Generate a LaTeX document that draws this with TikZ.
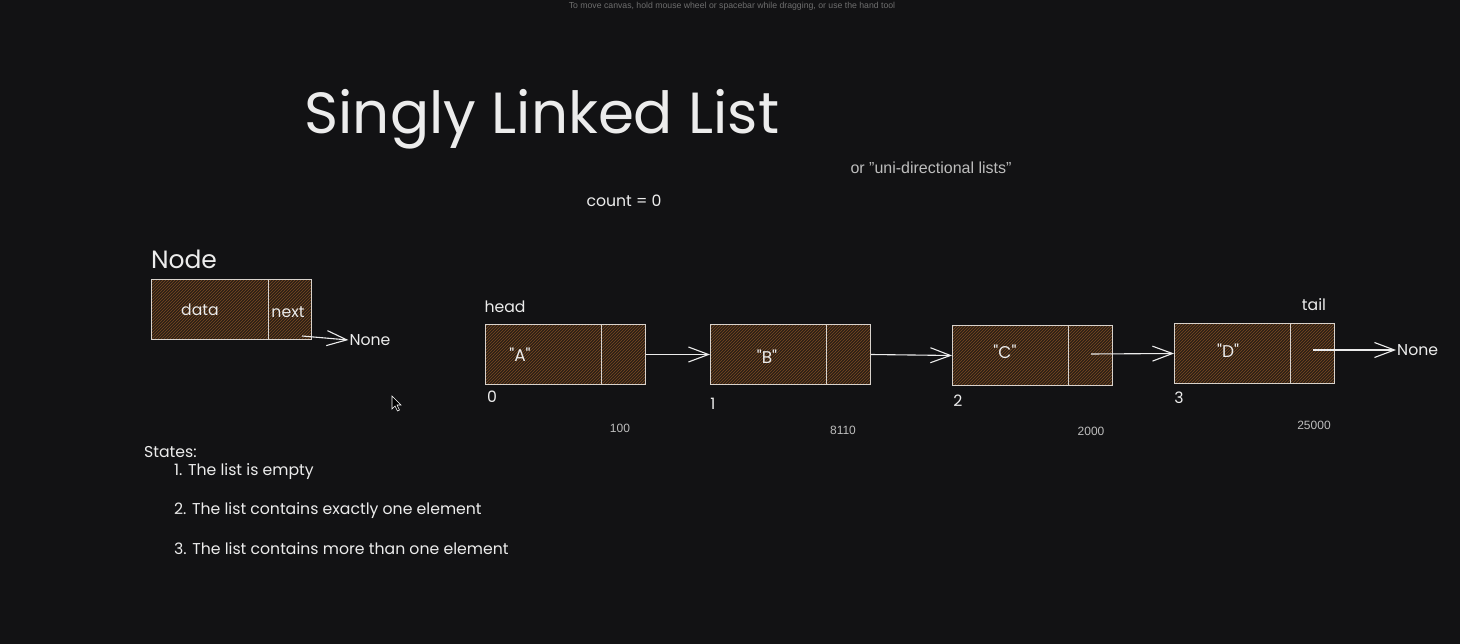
\documentclass[tikz,border=0pt]{standalone}
\usepackage{fontspec}
\setmainfont{Liberation Sans}
\newfontfamily\hand{Poppins}
\usetikzlibrary{arrows.meta,patterns}
\definecolor{bg}{HTML}{121214}
\definecolor{fg}{HTML}{ECECEC}
\definecolor{soft}{HTML}{BDBDBD}
\definecolor{dim}{HTML}{6E6E6E}
\definecolor{edge}{HTML}{D8D2CC}
\definecolor{cellbg}{HTML}{2B1F16}
\definecolor{hatch}{HTML}{7A4A22}
\tikzset{
  cell/.style={draw=edge, line width=1pt, preaction={fill=cellbg}, pattern=north east lines, pattern color=hatch, minimum height=60pt, inner sep=0pt, anchor=north west},
  datacell/.style={cell, minimum width=116pt},
  nextcell/.style={cell, minimum width=44pt},
  hw/.style={font=\hand\fontsize{15.7}{18}\selectfont, text=fg, inner sep=1pt},
  val/.style={hw, font=\hand\fontsize{17}{20}\selectfont},
  lbl/.style={font=\fontsize{12}{14}\selectfont, text=soft, inner sep=1pt},
  arr/.style={draw=fg, line width=1.1pt, -{Straight Barb[length=20pt,width=15pt,line width=1.1pt]}},
}
\begin{document}
\begin{tikzpicture}[x=1pt,y=-1pt]
\fill[bg] (0,0) rectangle (1460,644);
\useasboundingbox (0,0) rectangle (1460,644);

% top hint
\node[font=\fontsize{8.7}{10}\selectfont, text=dim, inner sep=0pt] (hint) at (732,6) {To move canvas, hold mouse wheel or spacebar while dragging, or use the hand tool};

% title
\node[font=\hand\fontsize{58}{64}\selectfont, text=fg, inner sep=0pt] (title) at (542,119) {Singly Linked List};
\node[font=\fontsize{16}{18}\selectfont, text=soft, inner sep=0pt] (sub) at (931,168) {or "uni-directional lists"};
\node[hw] (count) at (624,201) {count = 0};

% Node legend
\node[font=\hand\fontsize{25}{30}\selectfont, text=fg, inner sep=0pt] (nodettl) at (184,259) {Node};
\node[datacell, minimum width=117pt] (nd) at (151,279) {};
\node[nextcell, minimum width=43pt] (nn) at (268,279) {};
\node[hw] (ndt) at (200,310) {data};
\node[hw] (nnt) at (288,312) {next};
\coordinate (s0) at (302,336);
\node[hw] (none1) at (370,340) {None};
\draw[arr] (s0) -- (none1.west);

% cursor
\filldraw[fill=black, draw=white, line width=0.6pt] (392,396) -- (392,409) -- (395,406) -- (397.5,411) -- (399.5,410) -- (397,405) -- (401,405) -- cycle;

% list
\node[datacell] (Ad) at (485,324) {};
\node[nextcell] (An) at (601,324) {};
\node[datacell] (Bd) at (710,324) {};
\node[nextcell] (Bn) at (826,324) {};
\node[datacell] (Cd) at (952,325) {};
\node[nextcell] (Cn) at (1068,325) {};
\node[datacell] (Dd) at (1174,323) {};
\node[nextcell] (Dn) at (1290,323) {};

\node[val] (At) at (520,355) {"A"};
\node[val] (Bt) at (767,357) {"B"};
\node[val] (Ct) at (1005,352) {"C"};
\node[val] (Dt) at (1228,351) {"D"};

\node[hw] (head) at (505,307) {head};
\node[hw] (tail) at (1314,305) {tail};

\node[hw] (i0) at (492,397) {0};
\node[hw] (i1) at (713,404) {1};
\node[hw] (i2) at (958,401) {2};
\node[hw] (i3) at (1179,398) {3};

\node[lbl] (a0) at (620,428) {100};
\node[lbl] (a1) at (843,430) {8110};
\node[lbl] (a2) at (1091,431) {2000};
\node[lbl] (a3) at (1314,425) {25000};

\draw[arr] (An.east) -- (Bd.west);
\draw[arr] (Bn.east) -- (Cd.west);
\coordinate (s3) at (1091,354);
\draw[arr] (s3) -- (Dd.west);
\coordinate (s4) at (1313,350);
\node[hw, anchor=west] (none2) at (1396,350) {None};
\draw[arr] (s4) -- (none2.west);

% states
\node[hw, anchor=west] (st) at (143,452) {States:};
\node[hw, anchor=west] (st1) at (173,472) {1. The list is empty};
\node[hw, anchor=west] (st2) at (173,511) {2. The list contains exactly one element};
\node[hw, anchor=west] (st3) at (173,549) {3. The list contains more than one element};
\end{tikzpicture}
\end{document}
